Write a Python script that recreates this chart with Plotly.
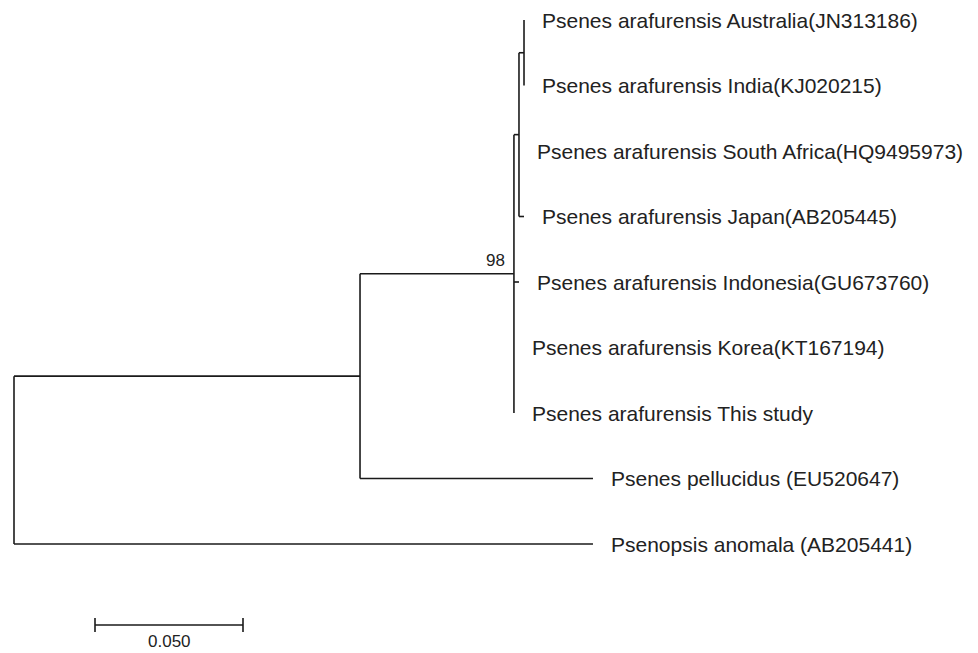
import plotly.graph_objects as go

# ---- data ----
tip_labels = [
    "Psenes arafurensis Australia(JN313186)",
    "Psenes arafurensis India(KJ020215)",
    "Psenes arafurensis South Africa(HQ9495973)",
    "Psenes arafurensis Japan(AB205445)",
    "Psenes arafurensis Indonesia(GU673760)",
    "Psenes arafurensis Korea(KT167194)",
    "Psenes arafurensis This study",
    "Psenes pellucidus (EU520647)",
    "Psenopsis anomala (AB205441)",
]
# tree as nested (children, branch_length); tips are indices into tip_labels
clade_C = ([(0, 0.0), (1, 0.0)], 0.0017)
clade_B = ([clade_C, (2, 0.0), (3, 0.0017)], 0.0017)
clade_A = ([clade_B, (4, 0.0017), (5, 0.0), (6, 0.0)], 0.0520)
clade_D = ([clade_A, (7, 0.0787)], 0.1169)
root = ([clade_D, (8, 0.1956)], 0.0)
bootstrap_values = [98]   # at clade A
scale_length = 0.050
scale_label = "0.050"

# ---- layout of tree ----
seg_x, seg_y = [], []
tip_pos = {}
node_pos = {}

def layout_sub(node, x_parent, stem=True):
    children, bl = node
    x = x_parent + bl
    ys = []
    for ch in children:
        if isinstance(ch[0], int):
            tip, tbl = ch
            seg_x.extend([x, x + tbl, None]); seg_y.extend([tip, tip, None])
            tip_pos[tip] = (x + tbl, tip)
            ys.append(tip)
        else:
            ys.append(layout_sub(ch, x))
    y = (ys[0] + ys[-1]) / 2
    seg_x.extend([x, x, None]); seg_y.extend([ys[0], ys[-1], None])
    if stem:
        seg_x.extend([x_parent, x, None]); seg_y.extend([y, y, None])
    node_pos[id(node)] = (x, y)
    return y

layout_sub(root, 0.0, stem=False)

fig = go.Figure()
fig.add_trace(go.Scatter(x=seg_x, y=seg_y, mode="lines",
                         line=dict(color="#1a1a1a", width=1.6),
                         hoverinfo="skip", showlegend=False))

font_fam = "Liberation Sans, Arial, sans-serif"
for i, lab in enumerate(tip_labels):
    tx, ty = tip_pos[i]
    fig.add_annotation(x=tx, y=ty, text=lab, showarrow=False,
                       xanchor="left", yanchor="middle", xshift=16,
                       font=dict(family=font_fam, size=21, color="#222222"))

ax, ay = node_pos[id(clade_A)]
fig.add_annotation(x=ax, y=ay, text=str(bootstrap_values[0]), showarrow=False,
                   xanchor="right", yanchor="middle", xshift=-7, yshift=13,
                   font=dict(family=font_fam, size=17, color="#222222"))

# scale bar
px_per_unit = 148 / 0.05
sb_x0 = 81 / px_per_unit
sb_y = 9.237
tick_h = 0.107
fig.add_trace(go.Scatter(
    x=[sb_x0, sb_x0 + scale_length, None, sb_x0, sb_x0, None,
       sb_x0 + scale_length, sb_x0 + scale_length],
    y=[sb_y, sb_y, None, sb_y - tick_h, sb_y + tick_h, None,
       sb_y - tick_h, sb_y + tick_h],
    mode="lines", line=dict(color="#1a1a1a", width=1.6),
    hoverinfo="skip", showlegend=False))
fig.add_annotation(x=sb_x0 + scale_length / 2, y=sb_y, text=scale_label,
                   showarrow=False, xanchor="center", yanchor="middle", yshift=-16,
                   font=dict(family=font_fam, size=17, color="#222222"))

# page has an 8px body margin; size figure to the remaining area
OFF = 8
W, H = 978 - OFF, 653 - OFF
root_px = 14 - OFF
top_px = 20 - OFF
fig.update_layout(
    width=W, height=H, margin=dict(l=0, r=0, t=0, b=0),
    paper_bgcolor="white", plot_bgcolor="white",
    xaxis=dict(range=[-root_px / px_per_unit, (W - root_px) / px_per_unit],
               visible=False, fixedrange=True),
    yaxis=dict(range=[(H - top_px) / 65.5, -top_px / 65.5],
               visible=False, fixedrange=True),
)
fig.write_html("out.html")
